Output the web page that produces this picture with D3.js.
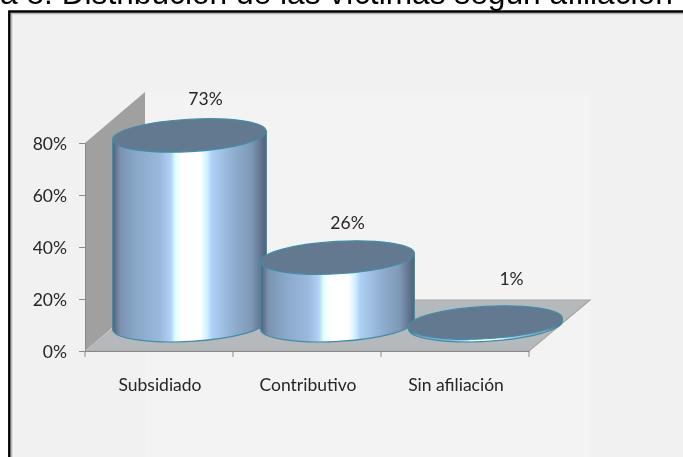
<!DOCTYPE html>
<html><head><meta charset="utf-8">
<script src="https://cdnjs.cloudflare.com/ajax/libs/d3/7.8.5/d3.min.js"></script>
<style>html,body{margin:0;padding:0;background:#fff;overflow:hidden}svg{display:block}</style></head>
<body><div id="c"></div>
<script>
const categories = ["Subsidiado", "Contributivo", "Sin afiliación"];
const values = [73, 26, 1];
const valueLabels = ["73%", "26%", "1%"];
const yTicks = [0, 20, 40, 60, 80];
const titleText = "a 8. Distribución de las víctimas según afiliación";

const W = 683, H = 457;
const svg = d3.select("#c").append("svg").attr("width", W).attr("height", H);
const defs = svg.append("defs");
defs.append("filter").attr("id", "soft")
  .attr("filterUnits", "userSpaceOnUse").attr("x", 0).attr("y", 0).attr("width", W).attr("height", H)
  .append("feGaussianBlur").attr("stdDeviation", 0.45);
const grad = defs.append("linearGradient").attr("id", "cyl").attr("x1", 0).attr("x2", 1).attr("y1", 0).attr("y2", 0);
[[0,"#4f5f78"],[0.05,"#7a92b0"],[0.14,"#87a5c6"],[0.31,"#9bb9dd"],[0.377,"#b0d0f5"],[0.41,"#e0ffff"],[0.45,"#ffffff"],[0.57,"#ffffff"],[0.615,"#d0f0ff"],[0.647,"#aed0f5"],[0.79,"#8fadcf"],[0.9,"#7f9ab8"],[1,"#50607a"]]
  .forEach(s => grad.append("stop").attr("offset", s[0]).attr("stop-color", s[1]));

const root = svg.append("g").attr("filter", "url(#soft)");
root.append("rect").attr("width", W).attr("height", H).attr("fill", "#fff");
root.append("rect").attr("x", 9).attr("y", 11).attr("width", W - 9).attr("height", H - 11).attr("fill", "#f1f1f1");
root.append("rect").attr("x", 145).attr("y", 92).attr("width", 445).attr("height", H - 92).attr("fill", "#f3f3f3");
root.append("path").attr("d", "M11.5,457V13.5H683").attr("fill", "none").attr("stroke", "#b5b5b5").attr("stroke-width", 1.5);
root.append("path").attr("d", "M9.3,457V11.5H683").attr("fill", "none").attr("stroke", "#000").attr("stroke-width", 2.4);
root.append("text").attr("x", 0).attr("y", 3.5)
  .attr("font-family", "Liberation Sans").attr("font-size", 31.7).attr("fill", "#000").text(titleText);

const y0 = 351, x0 = 85, x1 = 529, dx = 61, dy = -51;
const x = d3.scaleBand().domain(categories).range([x0, x1]);
const y = d3.scaleLinear().domain([0, 80]).range([y0, 143]);
const hScale = d3.scaleLinear().domain([0, 80]).range([0, y0 - y(80)]);

// walls and floor
root.append("path").attr("d", `M${x0},${y0}V${y(80)}L${x0+dx-1},${y(80)+dy}V${y0+dy}Z`).attr("fill", "#a0a0a0");
root.append("path").attr("d", `M${x0},${y0}H${x1}L${x1+dx},${y0+dy}H${x0+dx}Z`).attr("fill", "#b6b9bb");
root.append("path").attr("d", `M${x0+dx},${y0+dy}H${x1+dx}L${x1},${y0}H${x0}`).attr("fill", "none").attr("stroke", "#a3a5a7").attr("stroke-width", 1.2);

// axes
const axisCol = "#8a8a8a";
const gy = root.append("g").attr("transform", `translate(${x0},0)`).call(d3.axisLeft(y).tickValues(yTicks).tickSize(6).tickFormat(d => d + "%"));
gy.select(".domain").attr("stroke", axisCol);
gy.selectAll("line").attr("stroke", axisCol);
gy.selectAll("text").attr("x", -18).attr("dy", "0.36em").attr("font-family", "Lato").attr("font-size", 17.5).attr("fill", "#262626");
const gx = root.append("g").attr("transform", `translate(0,${y0})`).call(d3.axisBottom(x).tickSize(0).tickFormat(""));
gx.select(".domain").attr("stroke", axisCol);
gx.selectAll(".tick").remove();
root.selectAll(".xt").data(d3.range(categories.length + 1)).enter().append("line").attr("class", "xt")
  .attr("x1", i => x0 + i * x.step()).attr("x2", i => x0 + i * x.step()).attr("y1", y0).attr("y2", y0 + 6).attr("stroke", axisCol);
root.selectAll(".xl").data(categories).enter().append("text").attr("class", "xl")
  .attr("x", d => x(d) + x.bandwidth() / 2 + 1).attr("y", y0 + 40).attr("text-anchor", "middle")
  .attr("font-family", "Lato").attr("font-size", 17.5).attr("fill", "#262626").text(d => d);

// cylinders
const rx = 77, ry = 16.2, rot = -3.2, cyBase = y0 - 25.8, offs = dx / 2;
const labelShift = [[16, -30], [10, -29], [26, -38]];
const rad = rot * Math.PI / 180;
const ex = rx * Math.cos(rad), ey = rx * Math.sin(rad);
categories.forEach((c, i) => {
  const cx = x(c) + x.bandwidth() / 2 + offs;
  const h = hScale(values[i]);
  const top = cyBase - h;
  const d = `M${cx-ex},${top-ey}L${cx-ex},${cyBase-ey}A${rx},${ry} ${rot} 0 0 ${cx+ex},${cyBase+ey}L${cx+ex},${top+ey}Z`;
  root.append("path").attr("d", d).attr("fill", "url(#cyl)").attr("stroke", "#3f8ea6").attr("stroke-width", 1.2);
  root.append("ellipse").attr("cx", 0).attr("cy", 0).attr("rx", rx).attr("ry", ry)
    .attr("transform", `translate(${cx},${top}) rotate(${rot})`)
    .attr("fill", "#64798f").attr("stroke", "#3f8ea6").attr("stroke-width", 1.2);
  root.append("text").attr("x", cx + labelShift[i][0]).attr("y", top + labelShift[i][1]).attr("text-anchor", "middle")
    .attr("font-family", "Lato").attr("font-size", 17.5).attr("fill", "#262626").text(valueLabels[i]);
});
</script></body></html>
